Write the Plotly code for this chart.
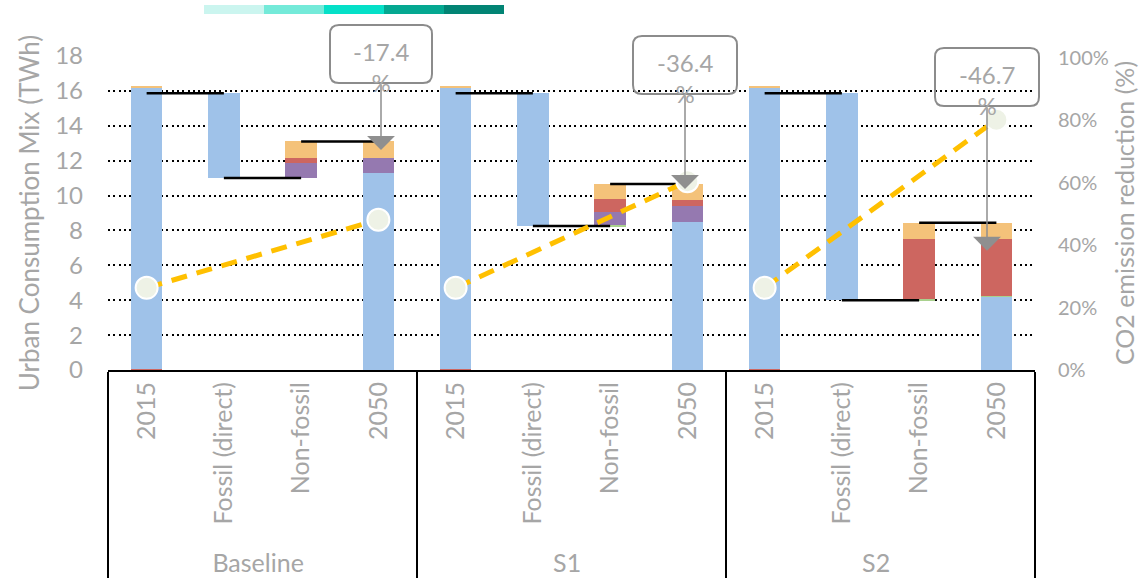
import plotly.graph_objects as go

# ---- data -------------------------------------------------------------
groups = ["Baseline", "S1", "S2"]
steps = ["2015", "Fossil (direct)", "Non-fossil", "2050"]

# invisible floating base of each waterfall step (TWh)
offset = {"Baseline": [0, 11.0, 11.0, 0], "S1": [0, 8.25, 8.25, 0], "S2": [0, 4.0, 4.0, 0]}
# stacked components (TWh), bottom to top
red_low = {"Baseline": [0.08, 0, 0, 0], "S1": [0.08, 0, 0, 0], "S2": [0.08, 0, 0, 0]}
blue = {"Baseline": [16.1, 4.86, 0, 11.3], "S1": [16.1, 7.61, 0, 8.5], "S2": [16.1, 11.86, 0, 4.2]}
green = {"Baseline": [0, 0, 0, 0], "S1": [0, 0, 0.05, 0], "S2": [0, 0, 0.06, 0.07]}
purple = {"Baseline": [0, 0, 0.88, 0.87], "S1": [0, 0, 0.77, 0.9], "S2": [0, 0, 0, 0]}
red = {"Baseline": [0, 0, 0.29, 0], "S1": [0, 0, 0.71, 0.34], "S2": [0, 0, 3.46, 3.25]}
orange = {"Baseline": [0.06, 0, 0.93, 0.93], "S1": [0.06, 0, 0.88, 0.92], "S2": [0.06, 0, 0.92, 0.92]}

# CO2 emission reduction (share)
co2_2015 = [0.263, 0.263, 0.263]
co2_2050 = [0.481, 0.604, 0.801]

# change labels of the 2050 totals and where their arrows point (TWh)
change_pct = [-17.4, -36.4, -46.7]
arrow_tip = [12.61, 10.38, 6.84]

# legend swatch colours along the top
swatch_colors = ["#CBF5EF", "#74EAD9", "#05E0C8", "#04A891", "#028474"]

# ---- styling ----------------------------------------------------------
GREY = "#A6A6A6"
FONT = "Lato"
C_BLUE, C_GREEN, C_PURPLE, C_RED, C_ORANGE = "#9FC2E9", "#A9D18E", "#9579B0", "#CD6660", "#F4C27A"

xg = [g for g in groups for _ in steps]
xs = [s for _ in groups for s in steps]


def flat(d):
    return [v for g in groups for v in d[g]]


fig = go.Figure()

series = [
    (offset, "rgba(0,0,0,0)"),
    (red_low, C_RED),
    (blue, C_BLUE),
    (green, C_GREEN),
    (purple, C_PURPLE),
    (red, C_RED),
    (orange, C_ORANGE),
]
for data, col in series:
    fig.add_trace(go.Bar(x=[xg, xs], y=flat(data), width=0.41,
                         marker=dict(color=col, line=dict(width=0)),
                         showlegend=False, hoverinfo="skip"))

# connector lines between consecutive steps
for g in groups:
    top_fossil = offset[g][1] + blue[g][1]
    bottom_fossil = offset[g][1]
    top_nonfossil = sum(d[g][2] for d, _ in series)
    levels = [top_fossil, bottom_fossil, top_nonfossil]
    for i, lv in enumerate(levels):
        fig.add_trace(go.Scatter(x=[[g, g], [steps[i], steps[i + 1]]], y=[lv, lv],
                                 mode="lines", line=dict(color="black", width=2.5),
                                 showlegend=False, hoverinfo="skip"))

# CO2 reduction trend per scenario
for i, g in enumerate(groups):
    fig.add_trace(go.Scatter(x=[[g, g], ["2015", "2050"]], y=[co2_2015[i], co2_2050[i]],
                             yaxis="y2", mode="lines",
                             line=dict(color="#FFC000", width=5, dash="16px,10px"),
                             showlegend=False, hoverinfo="skip"))
mx_g, mx_s, my = [], [], []
for i, g in enumerate(groups):
    mx_g += [g, g]
    mx_s += ["2015", "2050"]
    my += [co2_2015[i], co2_2050[i]]
fig.add_trace(go.Scatter(x=[mx_g, mx_s], y=my, yaxis="y2", mode="markers",
                         marker=dict(size=22, color="#EEF2E6", line=dict(color="white", width=2)),
                         showlegend=False, hoverinfo="skip"))

# ---- layout -----------------------------------------------------------
L, R, T, B = 108, 105, 56, 210
W, H = 1140, 580
PW, PH = W - L - R, H - T - B


def px(xp):
    return (xp - L) / PW


def py(yp):
    return (H - B - yp) / PH


shapes = []
for k, c in enumerate(swatch_colors):
    shapes.append(dict(type="rect", xref="paper", yref="paper",
                       x0=px(204 + 60 * k), x1=px(204 + 60 * (k + 1)),
                       y0=py(14), y1=py(5), fillcolor=c, line=dict(width=0), layer="above"))

# rounded callout boxes
boxes = [(330, 432, 25, 83), (633, 737, 36, 94), (935, 1039, 48, 106)]
annotations = []
rad = 9
for (x0, x1, y0, y1), pct, tip in zip(boxes, change_pct, arrow_tip):
    path = (f"M {px(x0 + rad)},{py(y0)} L {px(x1 - rad)},{py(y0)} "
            f"Q {px(x1)},{py(y0)} {px(x1)},{py(y0 + rad)} L {px(x1)},{py(y1 - rad)} "
            f"Q {px(x1)},{py(y1)} {px(x1 - rad)},{py(y1)} L {px(x0 + rad)},{py(y1)} "
            f"Q {px(x0)},{py(y1)} {px(x0)},{py(y1 - rad)} L {px(x0)},{py(y0 + rad)} "
            f"Q {px(x0)},{py(y0)} {px(x0 + rad)},{py(y0)} Z")
    shapes.append(dict(type="path", xref="paper", yref="paper", path=path,
                       line=dict(color="#8C8C8C", width=2), fillcolor="rgba(255,255,255,0)",
                       layer="above"))
    xc = (x0 + x1) / 2
    tip_px = (H - B) - tip * PH / 18
    annotations.append(dict(xref="paper", yref="y", x=px(xc), y=tip, text="",
                            showarrow=True, ax=0, ay=y1 - tip_px, arrowhead=1,
                            arrowsize=3.1, arrowwidth=1.5, arrowcolor="#8F8F8F"))
    annotations.append(dict(xref="paper", yref="paper", x=px(xc), y=py((y0 + y1) / 2 + 13),
                            xanchor="center", yanchor="middle",
                            text=f"{pct}<br>%", showarrow=False,
                            font=dict(family=FONT, size=24, color=GREY)))

fig.update_layout(
    width=W, height=H,
    margin=dict(l=L, r=R, t=T, b=B, autoexpand=False),
    paper_bgcolor="white", plot_bgcolor="white",
    barmode="stack",
    font=dict(family=FONT, color=GREY),
    showlegend=False,
    shapes=shapes,
    annotations=annotations,
    xaxis=dict(range=[-0.5, len(groups) * len(steps) - 0.5], autorange=False,
               showline=True, linecolor="black", linewidth=2, ticks="",
               tickangle=-90, tickfont=dict(size=25, color=GREY), automargin=False,
               showdividers=True, dividercolor="black", dividerwidth=1.5,
               showgrid=False),
    yaxis=dict(range=[0, 18], dtick=2, showgrid=True, gridcolor="black", gridwidth=2,
               griddash="2px,3.3px", zeroline=False, showline=False, ticks="",
               automargin=False,
               ticklabelstandoff=24, tickfont=dict(size=24, color=GREY),
               title=dict(text="Urban Consumption Mix (TWh)", standoff=8,
                          font=dict(size=26, color=GREY))),
    yaxis2=dict(overlaying="y", side="right", range=[0, 1.005], dtick=0.2, tickformat=".0%",
                showgrid=False, zeroline=False, showline=False, ticks="", automargin=False,
                ticklabelstandoff=22, tickfont=dict(size=20, color=GREY),
                title=dict(text="CO2 emission reduction (%)", standoff=6,
                           font=dict(size=25, color=GREY))),
)

fig.write_html("out.html")
